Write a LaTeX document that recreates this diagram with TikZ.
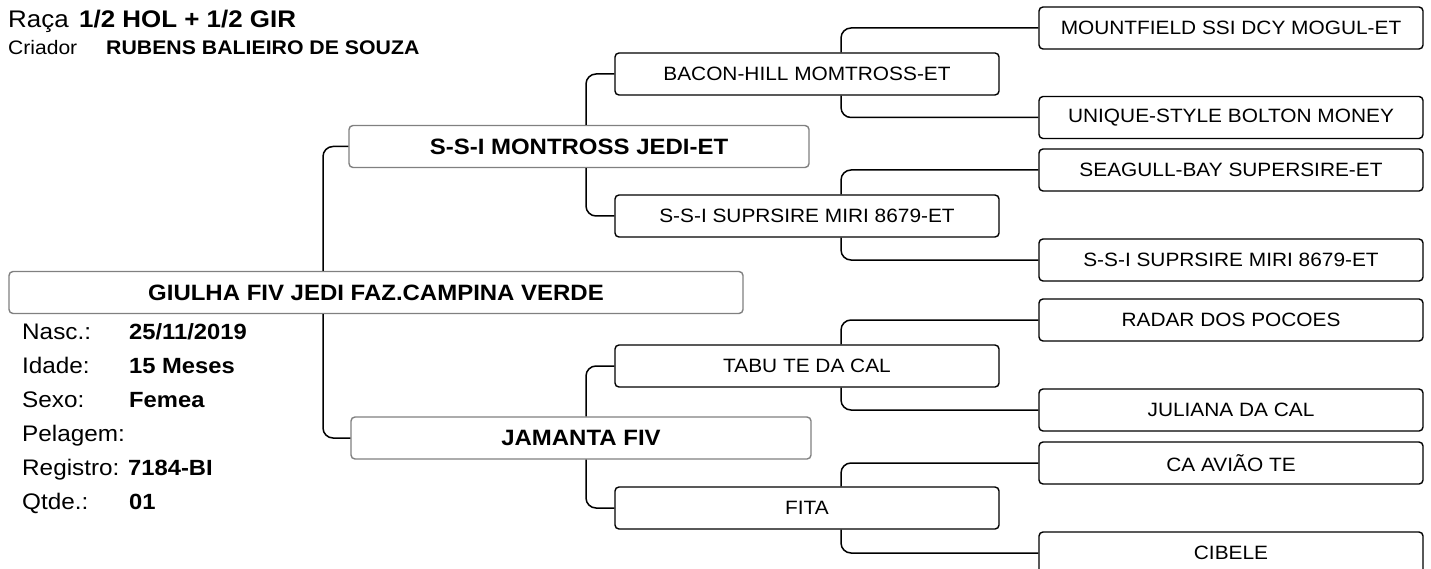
\documentclass[tikz,border=0pt]{standalone}
\usepackage{fontspec}
\setmainfont[FakeStretch=1.08]{Liberation Sans}
\usepackage{tikz}
\definecolor{gb}{rgb}{.5,.5,.5}

\begin{document}
\begin{tikzpicture}[
      x=1pt, y=-1pt,
      every node/.style={inner sep=0pt},
      box/.style={draw, fill=white, rounded corners=4pt, line width=1.4pt,
                  minimum width=384pt, minimum height=42pt,
                  font=\fontsize{19.3}{22}\selectfont},
      bigbox/.style={box, draw=gb, minimum width=460pt,
                  font=\fontsize{22.2}{26}\selectfont\bfseries},
      link/.style={line width=1.5pt, rounded corners=10pt},
      lbl/.style={anchor=base west, font=\fontsize{22.5}{26}\selectfont},
      val/.style={anchor=base west, font=\fontsize{22}{26}\selectfont\bfseries}]

        \useasboundingbox (0,0) rectangle (1431,569);

        % header
        \node[lbl, font=\fontsize{24}{28}\selectfont] (raca) at (8,28) {Raça};
        \node[val, font=\fontsize{24}{28}\selectfont\bfseries] (racav) at (79,28) {1/2 HOL + 1/2 GIR};
        \node[lbl, font=\fontsize{19.5}{23}\selectfont] (criador) at (8,55) {Criador};
        \node[val, font=\fontsize{19.7}{23}\selectfont\bfseries] (criadorv) at (106,55) {RUBENS BALIEIRO DE SOUZA};

        % animal
        \node[bigbox, minimum width=734pt] (a) at (376,292.5) {GIULHA FIV JEDI FAZ.CAMPINA VERDE};

        \node[lbl] (nasc) at (22,339) {Nasc.:};
        \node[lbl] (idade) at (22,373) {Idade:};
        \node[lbl] (sexo) at (22,407) {Sexo:};
        \node[lbl] (pelagem) at (22,441) {Pelagem:};
        \node[lbl] (registro) at (22,475) {Registro:};
        \node[lbl] (qtde) at (22,509) {Qtde.:};

        \node[val] (nascv) at (129,339) {25/11/2019};
        \node[val] (idadev) at (129,373) {15 Meses};
        \node[val] (sexov) at (129,407) {Femea};
        \node[val] (registrov) at (128,475) {7184-BI};
        \node[val] (qtdev) at (129,509) {01};

        % pais
        \node[bigbox] (p) at (579,146.5) {S-S-I MONTROSS JEDI-ET};
        \node[bigbox] (m) at (581,438) {JAMANTA FIV};

        % avos
        \node[box] (pp) at (807,74) {BACON-HILL MOMTROSS-ET};
        \node[box] (pm) at (807,216) {S-S-I SUPRSIRE MIRI 8679-ET};
        \node[box] (mp) at (807,366) {TABU TE DA CAL};
        \node[box] (mm) at (807,508) {FITA};

        % bisavos
        \node[box] (ppp) at (1231,28) {MOUNTFIELD SSI DCY MOGUL-ET};
        \node[box] (ppm) at (1231,117.5) {UNIQUE-STYLE BOLTON MONEY};
        \node[box] (pmp) at (1231,170) {SEAGULL-BAY SUPERSIRE-ET};
        \node[box] (pmm) at (1231,260) {S-S-I SUPRSIRE MIRI 8679-ET};
        \node[box] (mpp) at (1231,320) {RADAR DOS POCOES};
        \node[box] (mpm) at (1231,410) {JULIANA DA CAL};
        \node[box] (mmp) at (1231,463) {CA AVIÃO TE};
        \node[box] (mmm) at (1231,553) {CIBELE};

        \coordinate (s0) at (323,0);
        \coordinate (s1) at (586,0);
        \coordinate (s2) at (841,0);

        \draw[link] (p.west) -| (a.north -| s0);
        \draw[link] (m.west) -| (a.south -| s0);

        \foreach \x/\c/\d in {p/pp/pm, m/mp/mm}{
          \draw[link] (\c.west) -| (\x.north -| s1);
          \draw[link] (\d.west) -| (\x.south -| s1);
        }

        \foreach \x/\c/\d in {pp/ppp/ppm, pm/pmp/pmm, mp/mpp/mpm, mm/mmp/mmm}{
          \draw[link] (\c.west) -| (\x.north -| s2);
          \draw[link] (\d.west) -| (\x.south -| s2);
        }

\end{tikzpicture}
\end{document}
